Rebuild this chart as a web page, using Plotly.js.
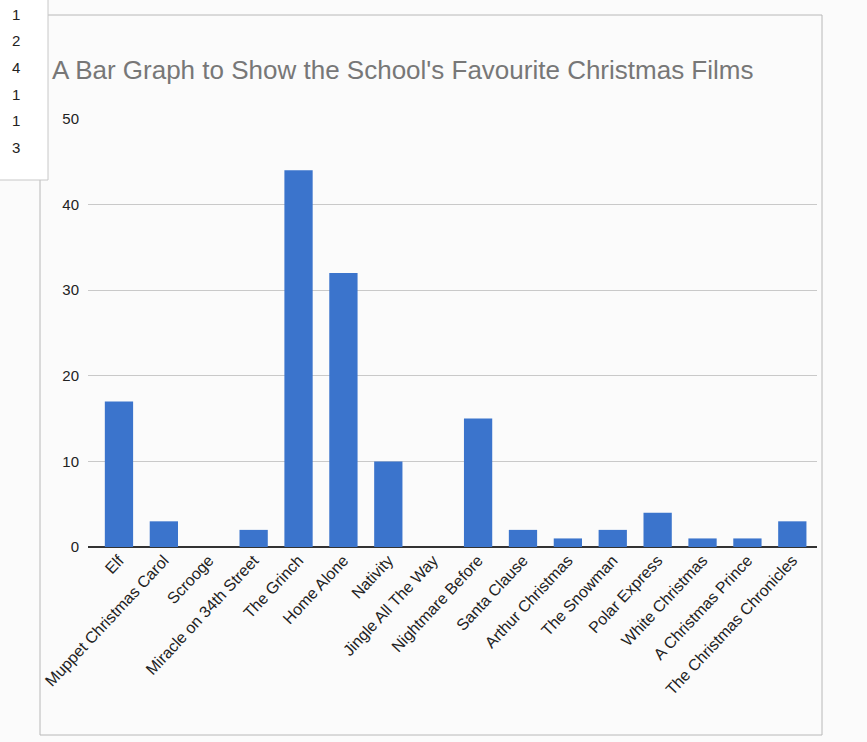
<!DOCTYPE html>
<html>
<head>
<meta charset="utf-8">
<script src="https://cdn.plot.ly/plotly-3.0.1.min.js"></script>
<style>html,body{margin:0;padding:0;background:#fff;}#chart{width:867px;height:742px;}</style>
</head>
<body>
<div id="chart"></div>
<script>
const films = ["Elf","Muppet Christmas Carol","Scrooge","Miracle on 34th Street","The Grinch","Home Alone","Nativity","Jingle All The Way","Nightmare Before","Santa Clause","Arthur Christmas","The Snowman","Polar Express","White Christmas","A Christmas Prince","The Christmas Chronicles"];
const votes = [17, 3, 0, 2, 44, 32, 10, 0, 15, 2, 1, 2, 4, 1, 1, 3];
const rowNumbers = ["1","2","4","1","1","3"];
const yTicks = [0, 10, 20, 30, 40, 50];

const paperTop = 119, paperB = 195, paperL = 88, paperR = 50;
const paperH = 742 - paperTop - paperB, paperW = 867 - paperL - paperR;
const px = v => (v - paperL) / paperW;
const py = v => 1 - (v - paperTop) / paperH;

const annotations = rowNumbers.map((t, i) => ({
  xref: "paper", yref: "paper", x: px(16), y: py(14 + i * 26.7),
  xanchor: "center", yanchor: "middle",
  text: t, showarrow: false, font: {family: "Liberation Sans, Arial", size: 15, color: "#222"}
}));

const shapes = [
  {type: "rect", xref: "paper", yref: "paper",
   x0: px(40), x1: px(822), y0: py(735), y1: py(15),
   line: {color: "#b8b8b8", width: 1}, fillcolor: "rgba(0,0,0,0)", layer: "below"},
  {type: "rect", xref: "paper", yref: "paper",
   x0: px(-2), x1: px(48), y0: py(180), y1: py(-2),
   line: {color: "#c8c8c8", width: 1}, fillcolor: "#ffffff", layer: "below"}
];

Plotly.newPlot("chart", [{
  type: "bar", x: films, y: votes,
  marker: {color: "#3b74cc", line: {width: 0}},
  hoverinfo: "x+y"
}], {
  width: 867, height: 742,
  margin: {l: paperL, r: paperR, t: paperTop, b: paperB},
  paper_bgcolor: "#fbfbfb", plot_bgcolor: "rgba(0,0,0,0)",
  bargap: 0.37,
  title: {text: "A Bar Graph to Show the School's Favourite Christmas Films",
          x: 52/867, xanchor: "left", y: 1 - 70/742, yanchor: "middle",
          font: {family: "Liberation Sans, Arial", size: 26, color: "#777"}},
  xaxis: {range: [-0.69, 15.55], tickangle: -47, showgrid: false, zeroline: false,
          showline: false, ticks: "",
          tickfont: {family: "Liberation Sans, Arial", size: 16, color: "#222"}},
  yaxis: {range: [0, 50], tickvals: yTicks, ticktext: yTicks.map(String),
          showgrid: true, gridcolor: "#c9c9c9", gridwidth: 1,
          zeroline: true, zerolinecolor: "#333", zerolinewidth: 1.5,
          ticks: "", ticklabelstandoff: 8,
          tickfont: {family: "Liberation Sans, Arial", size: 15, color: "#222"}},
  shapes: shapes,
  annotations: annotations,
  showlegend: false
}, {displayModeBar: false, staticPlot: true});
</script>
</body>
</html>
